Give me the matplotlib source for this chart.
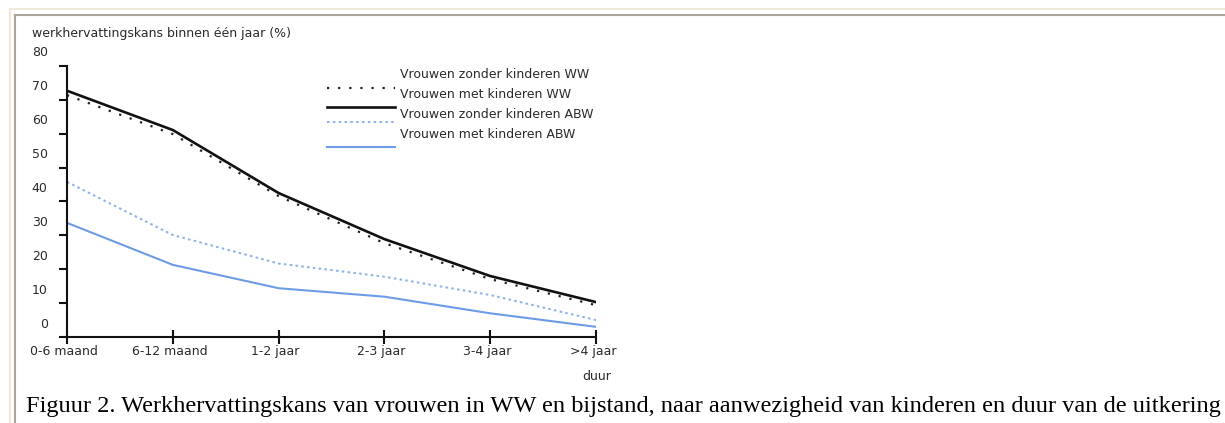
import matplotlib
matplotlib.use('Agg')

import matplotlib.pyplot as plt
from matplotlib.lines import Line2D
from matplotlib.transforms import ScaledTranslation


# duur van de uitkering
categories = ['0-6 maand', '6-12 maand', '1-2 jaar', '2-3 jaar', '3-4 jaar', '>4 jaar']

# werkhervattingskans binnen een jaar (%)
ww_zonder = [71.4, 59.9, 41.6, 27.7, 17.1, 9.4]
ww_met = [72.7, 61.1, 42.5, 28.9, 18.0, 10.3]
abw_zonder = [45.8, 30.1, 21.7, 17.8, 12.4, 5.0]
abw_met = [33.7, 21.3, 14.4, 11.9, 7.0, 3.0]

y_ticks = [0, 10, 20, 30, 40, 50, 60, 70, 80]

series_names = ['Vrouwen zonder kinderen WW', 'Vrouwen met kinderen WW',
                'Vrouwen zonder kinderen ABW', 'Vrouwen met kinderen ABW']

W, H = 1225, 423
fig = plt.figure(figsize=(W / 100, H / 100), dpi=100)
fig.patch.set_facecolor('white')

def fx(px):
    return px / W

def fy(py):
    return 1 - py / H

ax = fig.add_axes([fx(67), fy(337), fx(596) - fx(67), fy(66) - fy(337)])

x = list(range(len(categories)))

styles = [
    dict(color='#222222', lw=1.6, linestyle=(0, (1.0, 4.0))),
    dict(color='#111111', lw=1.9, linestyle='-'),
    dict(color='#8fb2ec', lw=1.5, linestyle=(0, (1.2, 1.6))),
    dict(color='#6d9be6', lw=1.5, linestyle='-'),
]
for vals, st in zip([ww_zonder, ww_met, abw_zonder, abw_met], styles):
    ax.plot(x, vals, solid_joinstyle='round', dash_capstyle='butt', **st)

ax.set_xlim(0, len(categories) - 1)
ax.set_ylim(0, 80)

for side in ['top', 'right']:
    ax.spines[side].set_visible(False)
for side in ['left', 'bottom']:
    ax.spines[side].set_linewidth(1.5)
    ax.spines[side].set_color('#111111')

txt_col = '#2b2b2b'
ax.set_yticks(y_ticks, [str(v) for v in y_ticks])
ax.set_xticks(x, categories)
ax.tick_params(axis='y', direction='out', length=6, width=1.5, pad=7.9,
               labelsize=9, labelcolor=txt_col, color='#111111')
ax.tick_params(axis='x', direction='inout', length=10, width=1.5, pad=0.5,
               labelsize=9, labelcolor=txt_col, color='#111111')

# labels in the original sit a bit off their ticks
up = ScaledTranslation(0, 0.145, fig.dpi_scale_trans)
for t in ax.yaxis.get_major_ticks():
    t.label1.set_transform(t.label1.get_transform() + up)
left = ScaledTranslation(-0.03, 0, fig.dpi_scale_trans)
for t in ax.xaxis.get_major_ticks():
    t.label1.set_transform(t.label1.get_transform() + left)

fig.text(fx(32), fy(33), 'werkhervattingskans binnen één jaar (%)', fontsize=9,
         color=txt_col, ha='left', va='center')
fig.text(fx(597), fy(377), 'duur', fontsize=9, color=txt_col, ha='center', va='center')

# legend, drawn by hand
leg_lines_y = [88, 107, 122, 147]
leg_text_y = [75, 95, 114, 135]
for name, st, ly, ty in zip(series_names, styles, leg_lines_y, leg_text_y):
    fig.add_artist(Line2D([fx(327), fx(395)], [fy(ly), fy(ly)], **st))
    fig.text(fx(400), fy(ty), name, fontsize=9, color=txt_col, ha='left', va='center')

# caption
fig.text(fx(26), fy(412),
         'Figuur 2. Werkhervattingskans van vrouwen in WW en bijstand, '
         'naar aanwezigheid van kinderen en duur van de uitkering',
         fontsize=17.6, family='Liberation Serif', color='black',
         ha='left', va='baseline')

# page frame
fig.add_artist(Line2D([fx(10), fx(W)], [fy(9.5), fy(9.5)], color='#efe9da', lw=1.5))
fig.add_artist(Line2D([fx(10), fx(10)], [fy(9.5), fy(H)], color='#efe9da', lw=1.5))
fig.add_artist(Line2D([fx(15), fx(W)], [fy(15), fy(15)], color='#a9a59b', lw=1.5))
fig.add_artist(Line2D([fx(15), fx(15)], [fy(15), fy(H)], color='#a9a59b', lw=1.5))

fig.savefig('out.png', dpi=100)
